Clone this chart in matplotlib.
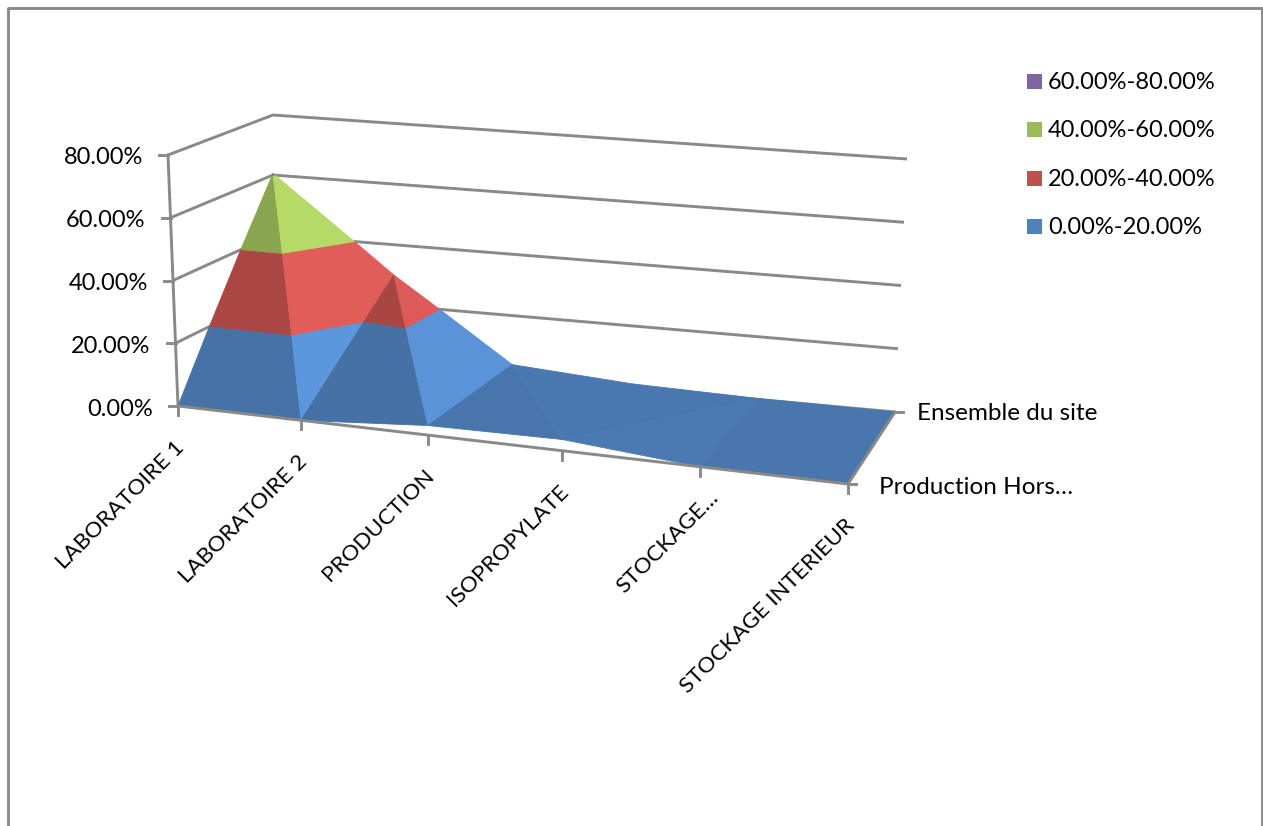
"""Excel style 3D surface chart, drawn on a flat axes through a small projection."""

import matplotlib
matplotlib.use("Agg")
import matplotlib.pyplot as plt
import numpy as np
from matplotlib.collections import PolyCollection
from matplotlib.colors import to_rgb
from matplotlib.patches import Rectangle

plt.rcParams["font.family"] = ["Lato", "DejaVu Sans"]

CATEGORIES = ["LABORATOIRE 1", "LABORATOIRE 2", "PRODUCTION", "ISOPROPYLATE",
              "STOCKAGE…", "STOCKAGE INTERIEUR"]
SERIES = ["Production Hors…", "Ensemble du site"]
production_hors = [0.0, 0.0, 3.0, 3.5, 0.0, 0.0]
ensemble_du_site = [60.5, 30.0, 4.0, 1.3, 0.3, 0.0]

VALUE_TICKS = [0, 20, 40, 60, 80]
VALUE_LABELS = ["0.00%", "20.00%", "40.00%", "60.00%", "80.00%"]
BAND_EDGES = [0, 20, 40, 60, 80]
BAND_COLORS = ["#4F81BD", "#C0504D", "#9BBB59", "#8064A2"]
BAND_LABELS = ["0.00%-20.00%", "20.00%-40.00%", "40.00%-60.00%", "60.00%-80.00%"]

GREY = "#898989"
FONT = 17.0
CAT_FONT = 16.2
SERIES_FONT = 17.5
LW = 2.1

# plot box on the figure in pixels: corners of floor and roof, and where the
# categories fall along the front and back edges (perspective spacing)
FLOOR_FRONT = np.array([(178, 406), (848, 484)], float)
FLOOR_BACK = np.array([(273, 355), (895, 412)], float)
ROOF_FRONT = np.array([(168, 155), (862, 223)], float)
ROOF_BACK = np.array([(273, 115), (907, 159)], float)
FRONT_X = np.array([178, 301, 428, 562, 700, 848], float)
BACK_X = np.array([273, 393, 512, 633, 760, 895], float)
FRONT_T = (FRONT_X - FRONT_X[0]) / (FRONT_X[-1] - FRONT_X[0])
BACK_T = (BACK_X - BACK_X[0]) / (BACK_X[-1] - BACK_X[0])
DEPTH_K = 1.08  # the near part of the box looks a bit longer


def project(c, s, z=0.0):
    idx = np.arange(len(FRONT_X))
    tf = np.interp(c, idx, FRONT_T)
    tb = np.interp(c, idx, BACK_T)
    s = s * DEPTH_K / (1 - s + s * DEPTH_K)
    floor_f = FLOOR_FRONT[0] + tf * (FLOOR_FRONT[1] - FLOOR_FRONT[0])
    floor_b = FLOOR_BACK[0] + tb * (FLOOR_BACK[1] - FLOOR_BACK[0])
    roof_f = ROOF_FRONT[0] + tf * (ROOF_FRONT[1] - ROOF_FRONT[0])
    roof_b = ROOF_BACK[0] + tb * (ROOF_BACK[1] - ROOF_BACK[0])
    floor = floor_f + s * (floor_b - floor_f)
    roof = roof_f + s * (roof_b - roof_f)
    return floor + (roof - floor) * z / VALUE_TICKS[-1]


def clip(poly, level, keep_above):
    """Cut a polygon of (c, s, z) points at z = level."""
    out = []
    for i, p in enumerate(poly):
        q = poly[(i + 1) % len(poly)]
        p_in = p[2] >= level if keep_above else p[2] <= level
        q_in = q[2] >= level if keep_above else q[2] <= level
        if p_in:
            out.append(p)
        if p_in != q_in:
            t = (level - p[2]) / (q[2] - p[2])
            out.append(tuple(np.array(p) + t * (np.array(q) - np.array(p))))
    return out


def shade(tri):
    """Brightness of a facet, from its slope along the categories and the series."""
    pts = np.array(tri)
    a = np.column_stack([pts[:, 0], pts[:, 1], np.ones(3)])
    dc, ds, _ = np.linalg.solve(a, pts[:, 2])
    return 0.915 - 0.0088 * dc - 0.0005 * ds


surface = np.array([production_hors, ensemble_du_site])

fig = plt.figure(figsize=(12.63, 8.26), dpi=100)
ax = fig.add_axes([0, 0, 1, 1])
ax.set_xlim(0, 1263)
ax.set_ylim(826, 0)
ax.axis("off")

# chart frame, the bottom edge is cut off in the picture
ax.plot([8, 8, 1262, 1262], [826, 8, 8, 826], color=GREY, lw=LW, clip_on=False)

# walls
last_c = len(CATEGORIES) - 1
for z in VALUE_TICKS:
    pts = np.array([project(0, 0, z), project(0, 1, z), project(last_c, 1, z)])
    ax.plot(pts[:, 0], pts[:, 1], color=GREY, lw=LW, solid_capstyle="butt")

# surface, each quad split along its higher diagonal, then cut into bands
verts, colors = [], []
for c in range(last_c):
    v00, v10 = surface[0, c], surface[0, c + 1]
    v01, v11 = surface[1, c], surface[1, c + 1]
    p00, p10 = (c, 0, v00), (c + 1, 0, v10)
    p01, p11 = (c, 1, v01), (c + 1, 1, v11)
    if v10 + v01 >= v00 + v11:
        tris = [(p00, p10, p01), (p10, p11, p01)]
    else:
        tris = [(p00, p01, p11), (p00, p10, p11)]
    for tri in tris:
        f = shade(tri)
        for lo, hi, col in zip(BAND_EDGES[:-1], BAND_EDGES[1:], BAND_COLORS):
            poly = clip(clip(list(tri), lo, True), hi, False)
            if len(poly) < 3:
                continue
            verts.append([project(*p) for p in poly])
            colors.append(tuple(min(1.0, x * f) for x in to_rgb(col)))
ax.add_collection(PolyCollection(verts, facecolors=colors, edgecolors=colors, linewidths=0.6, zorder=3))

# value axis
pts = np.array([project(0, 0, VALUE_TICKS[0]), project(0, 0, VALUE_TICKS[-1])])
ax.plot(pts[:, 0], pts[:, 1], color=GREY, lw=LW, zorder=2)
for z, label in zip(VALUE_TICKS, VALUE_LABELS):
    x, y = project(0, 0, z)
    ax.plot([x - 9, x], [y, y], color=GREY, lw=LW, zorder=2)
    ax.text(x - 25, y + 3, label, ha="right", va="center", fontsize=FONT)

# category axis
pts = np.array([project(c, 0) for c in range(last_c + 1)])
ax.plot(pts[:, 0], pts[:, 1], color=GREY, lw=LW, zorder=4)
for c, label in enumerate(CATEGORIES):
    x, y = project(c, 0)
    ax.plot([x, x], [y, y + 9], color=GREY, lw=LW, zorder=4)
    # Excel sets the truncated label closer to the axis
    dx, dy = (15, 28) if label.endswith("…") else (3, 38)
    ax.text(x + dx, y + dy, label, rotation=45, rotation_mode="anchor", ha="right", va="center",
            fontsize=CAT_FONT)

# series axis
pts = np.array([project(last_c, s) for s in (0, 1)])
ax.plot(pts[:, 0], pts[:, 1], color=GREY, lw=LW, zorder=4)
for s, label in enumerate(SERIES):
    x, y = project(last_c, s)
    ax.plot([x, x + 8], [y, y], color=GREY, lw=LW, zorder=4)
    ax.text(x + 31 - 9 * s, y + 4 - 3 * s, label, ha="left", va="center", fontsize=SERIES_FONT)

# legend
for i, (label, col) in enumerate(zip(BAND_LABELS[::-1], BAND_COLORS[::-1])):
    y = 81.5 + 48.4 * i
    ax.add_patch(Rectangle((1027, y - 7.5), 15, 15, facecolor=col, edgecolor="none"))
    ax.text(1048, y + 1, label, ha="left", va="center", fontsize=FONT)

fig.savefig("out.png", dpi=100)
